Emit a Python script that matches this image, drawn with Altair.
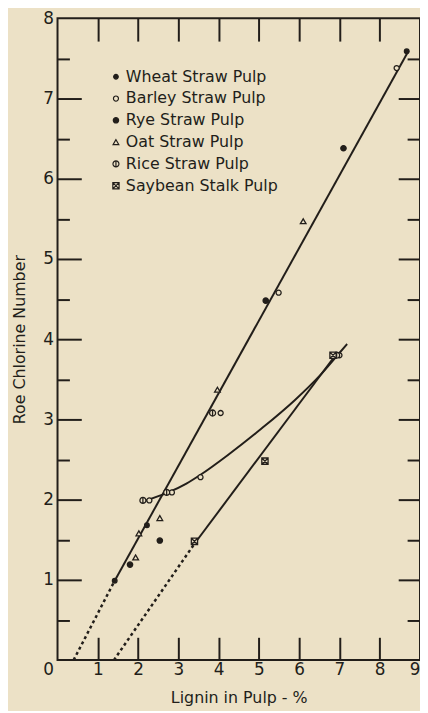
import altair as alt
import pandas as pd

INK = "#221e1a"
BG = "#ece1c6"
FONT = "DejaVu Sans"
W, H = 366, 648

series_names = ["Wheat Straw Pulp", "Barley Straw Pulp", "Rye Straw Pulp",
                "Oat Straw Pulp", "Rice Straw Pulp", "Saybean Stalk Pulp"]

wheat_x = [1.42, 2.22, 8.67]
wheat_y = [0.99, 1.68, 7.59]
barley_x = [2.28, 2.84, 3.55, 4.05, 5.49, 7.00, 8.42]
barley_y = [1.99, 2.09, 2.28, 3.08, 4.58, 3.80, 7.38]
rye_x = [1.80, 2.54, 5.17, 7.10]
rye_y = [1.19, 1.49, 4.48, 6.38]
oat_x = [1.94, 2.02, 2.54, 3.97, 6.10]
oat_y = [1.28, 1.58, 1.77, 3.37, 5.47]
rice_x = [2.12, 2.71, 3.85, 6.93]
rice_y = [1.99, 2.09, 3.08, 3.80]
soy_x = [3.40, 5.15, 6.84]
soy_y = [1.48, 2.48, 3.80]

# drawn lines
main_solid_x = [1.42, 8.72]
main_solid_y = [0.99, 7.60]
main_dotted_x = [0.40, 1.42]
main_dotted_y = [0.00, 0.99]
soy_solid_x = [3.40, 6.90]
soy_solid_y = [1.45, 3.80]
soy_dotted_x = [1.40, 3.40]
soy_dotted_y = [0.00, 1.45]
curve_x = [2.20, 2.75, 3.20, 3.55, 4.24, 5.05, 5.89, 6.50, 6.95, 7.19]
curve_y = [1.99, 2.09, 2.20, 2.31, 2.56, 2.88, 3.24, 3.54, 3.80, 3.94]

x_tick_values = [1, 2, 3, 4, 5, 6, 7, 8]
x_label_values = [1, 2, 3, 4, 5, 6, 7, 8, 9]
y_tick_values = [0.5, 1, 1.5, 2, 2.5, 3, 3.5, 4, 4.5, 5, 5.5, 6, 6.5, 7, 7.5]
y_label_values = [0, 1, 2, 3, 4, 5, 6, 7, 8]

shapes = ["circle", "circle", "circle", "triangle-up",
          "M-1,0A1,1,0,1,1,1,0A1,1,0,1,1,-1,0ZM0,-1L0,1",
          "M-1,-1H1V1H-1ZM-1,-1L1,1M1,-1L-1,1"]
fills = [INK, BG, INK, BG, BG, BG]
strokes = [INK] * 6
sizes = [22, 40, 58, 50, 45, 55]

rows = []
for name, xs_, ys_ in zip(series_names,
                          [wheat_x, barley_x, rye_x, oat_x, rice_x, soy_x],
                          [wheat_y, barley_y, rye_y, oat_y, rice_y, soy_y]):
    for a, b in zip(xs_, ys_):
        rows.append({"series": name, "x": a, "y": b})
pts = pd.DataFrame(rows)

solid = pd.DataFrame(
    [{"seg": "main", "x": a, "y": b} for a, b in zip(main_solid_x, main_solid_y)]
    + [{"seg": "soy", "x": a, "y": b} for a, b in zip(soy_solid_x, soy_solid_y)]
)
dotted = pd.DataFrame(
    [{"seg": "main", "x": a, "y": b} for a, b in zip(main_dotted_x, main_dotted_y)]
    + [{"seg": "soy", "x": a, "y": b} for a, b in zip(soy_dotted_x, soy_dotted_y)]
)
curve = pd.DataFrame({"x": curve_x, "y": curve_y})

xs = alt.Scale(domain=[0, 9], nice=False, zero=False)
ys = alt.Scale(domain=[0, 8], nice=False, zero=False)

tick_common = dict(labels=False, domain=False, grid=False, tickColor=INK,
                   tickWidth=2, title=None)

# bottom-edge inward ticks
ax_x_bottom_in = alt.Axis(orient="top", offset=-H, values=x_tick_values,
                          tickSize=23, **tick_common)
# top-edge inward ticks
ax_x_top_in = alt.Axis(orient="bottom", offset=-H, values=x_tick_values,
                       tickSize=23, **tick_common)
# left-edge inward ticks
ax_y_left_in = alt.Axis(orient="right", offset=-W, values=y_tick_values,
                        tickSize={"condition": {"test": "datum.value % 1 === 0", "value": 24}, "value": 12},
                        **tick_common)
# right-edge inward ticks
ax_y_right_in = alt.Axis(orient="left", offset=-W, values=y_tick_values,
                         tickSize={"condition": {"test": "datum.value % 1 === 0", "value": 22}, "value": 13},
                         **tick_common)

ax_x_labels = alt.Axis(orient="bottom", values=x_label_values, ticks=False,
                       domain=False, grid=False, labelPadding=2,
                       labelFont=FONT, labelFontSize=17, labelColor=INK,
                       labelOverlap=False,
                       title="Lignin in Pulp - %", titleFont=FONT,
                       titleFontSize=16, titleFontWeight="normal",
                       titleColor=INK, titlePadding=12)
ax_y_labels = alt.Axis(orient="left", values=y_label_values, ticks=False,
                       domain=False, grid=False, labelPadding=4,
                       labelFont=FONT, labelFontSize=17, labelColor=INK,
                       labelOverlap=False,
                       labelOffset={"condition": {"test": "datum.value === 0", "value": 10}, "value": 0},
                       title="Roe Chlorine Number", titleFont=FONT,
                       titleFontSize=16, titleFontWeight="normal",
                       titleColor=INK, titlePadding=16)

legend = alt.Legend(orient="none", legendX=51, legendY=51, title=None,
                    labelFont=FONT, labelFontSize=16, labelColor=INK,
                    rowPadding=6, labelOffset=2, padding=0,
                    symbolStrokeColor=INK, symbolStrokeWidth=1.2)

solid_layer = alt.Chart(solid).mark_line(color=INK, strokeWidth=2).encode(
    x=alt.X("x:Q", scale=xs, axis=ax_x_bottom_in),
    y=alt.Y("y:Q", scale=ys, axis=ax_y_left_in),
    detail="seg:N",
)
dotted_layer = alt.Chart(dotted).mark_line(color=INK, strokeWidth=2.5,
                                           strokeDash=[3, 3]).encode(
    x=alt.X("x:Q", scale=xs, axis=ax_x_top_in),
    y=alt.Y("y:Q", scale=ys, axis=ax_y_right_in),
    detail="seg:N",
)
curve_layer = alt.Chart(curve).mark_line(color=INK, strokeWidth=2,
                                         interpolate="monotone").encode(
    x=alt.X("x:Q", scale=xs, axis=None),
    y=alt.Y("y:Q", scale=ys, axis=None),
)
point_layer = alt.Chart(pts).mark_point(opacity=1, strokeWidth=1.3).encode(
    x=alt.X("x:Q", scale=xs, axis=ax_x_labels),
    y=alt.Y("y:Q", scale=ys, axis=ax_y_labels),
    shape=alt.Shape("series:N", sort=series_names,
                    scale=alt.Scale(domain=series_names, range=shapes),
                    legend=legend),
    fill=alt.Fill("series:N", sort=series_names,
                  scale=alt.Scale(domain=series_names, range=fills),
                  legend=legend),
    stroke=alt.Stroke("series:N", sort=series_names,
                      scale=alt.Scale(domain=series_names, range=strokes),
                      legend=legend),
    size=alt.Size("series:N", sort=series_names,
                  scale=alt.Scale(domain=series_names, range=sizes),
                  legend=legend),
)

chart = alt.layer(solid_layer, dotted_layer, curve_layer, point_layer).resolve_axis(
    x="independent", y="independent"
).properties(
    width=W, height=H, background=BG,
    padding={"left": 50, "top": 7, "right": 0, "bottom": 48},
    autosize=alt.AutoSizeParams(type="none"),
).configure_view(stroke=INK, strokeWidth=2)

chart.save("out.html", embed_options={"renderer": "svg", "actions": False})
